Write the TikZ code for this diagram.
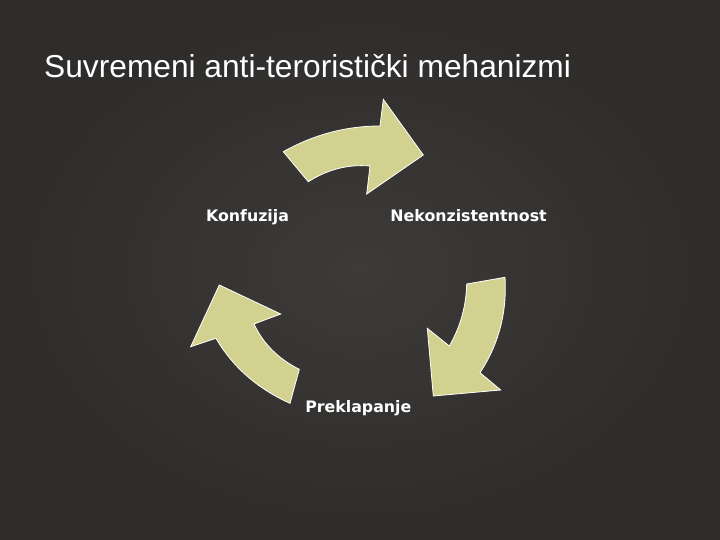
\documentclass[tikz,border=0pt]{standalone}
\usepackage{fontspec}
\usepackage{tikz}
\usetikzlibrary{calc}
\newfontfamily\titlefont{Liberation Sans}
\newfontfamily\labelfont{DejaVu Sans}
\definecolor{slidebg}{RGB}{46,45,44}
\definecolor{slidelight}{RGB}{64,63,61}
\definecolor{arrowfill}{RGB}{211,209,143}
\tikzset{
	cyclearrow/.style={fill=arrowfill, draw=white, line width=0.8pt, line join=miter},
	cyclelabel/.style={anchor=base, text=white, font=\labelfont\bfseries\fontsize{15.8}{18}\selectfont}
}

\begin{document}
\begin{tikzpicture}[x=1pt, y=-1pt]
		%%%%% START %%%%%
		
		\fill[slidebg] (0, 0) rectangle (720, 540);
		\shade[inner color=slidelight, outer color=slidebg, opacity=0.8] (0, 0) rectangle (720, 540);
		\useasboundingbox (0, 0) rectangle (720, 540);
		
		\node[anchor=base west, text=white, font=\titlefont\fontsize{31.7}{36}\selectfont, inner sep=0pt] (title) at (44, 78) {Suvremeni anti-teroristi\v{c}ki mehanizmi};
		
		% top arrow
		\draw[cyclearrow] (283.3, 151.7) .. controls (313.8, 134.6) and (346, 126) .. (380, 126) -- (383.3, 99.3) -- (423.3, 155) -- (366.7, 194) -- (370, 166) .. controls (348.1, 164.1) and (327.6, 169.4) .. (308.3, 181.7) -- cycle;
		
		% right arrow
		\draw[cyclearrow] (505, 277.3) .. controls (507.1, 312.6) and (498.7, 344.4) .. (480, 372.7) -- (500.7, 390) -- (433.3, 396) -- (427.3, 328.3) -- (449.3, 346) .. controls (460.3, 327.1) and (466.1, 306.4) .. (466.7, 284) -- cycle;
		
		% left arrow
		\draw[cyclearrow] (290, 403.3) .. controls (257.2, 388.5) and (232.5, 366.8) .. (216, 338.3) -- (190.7, 346.7) -- (219.3, 285) -- (280.7, 314) -- (254, 324) .. controls (263.3, 343.8) and (278.4, 358.9) .. (299.3, 369.3) -- cycle;
		
		\node[cyclelabel] (konfuzija) at (247.5, 221.7) {Konfuzija};
		\node[cyclelabel] (nekonzistentnost) at (468.6, 221.7) {Nekonzistentnost};
		\node[cyclelabel] (preklapanje) at (358.3, 412.7) {Preklapanje};
		
		%%%%% END %%%%%
	\end{tikzpicture}
\end{document}
